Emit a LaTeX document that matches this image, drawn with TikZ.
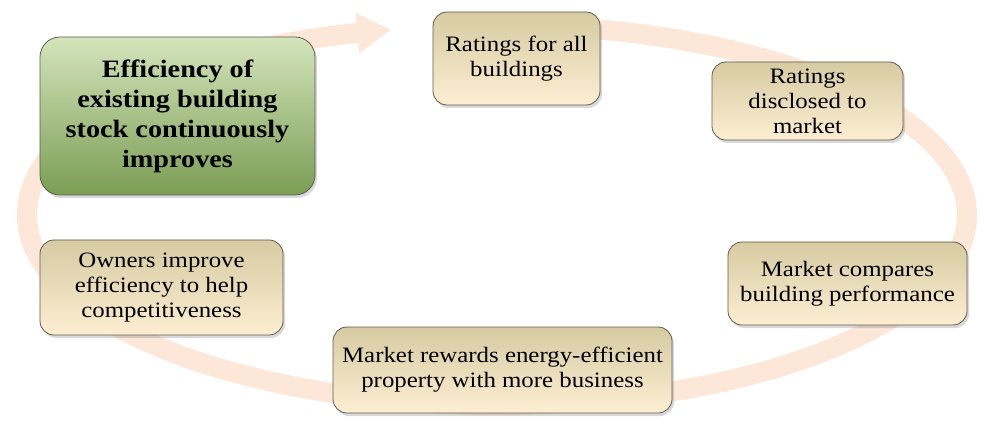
\documentclass[tikz,border=0pt]{standalone}
\usepackage{fontspec}
\setmainfont{Liberation Serif}[FakeStretch=1.13]
\usetikzlibrary{positioning,arrows.meta,shadows}
\definecolor{bandpeach}{RGB}{252,231,216}
\definecolor{boxline}{RGB}{95,92,80}
\definecolor{beigetop}{RGB}{214,203,162}
\definecolor{beigebot}{RGB}{253,238,210}
\definecolor{greentop}{RGB}{212,228,188}
\definecolor{greenbot}{RGB}{122,158,84}

\begin{document}
\begin{tikzpicture}[x=1pt, y=-1pt,
    box/.style={rectangle, draw=boxline, line width=0.8pt, rounded corners=14pt, top color=beigetop, bottom color=beigebot, align=center, inner sep=0pt, font=\fontsize{22}{25}\selectfont, drop shadow={shadow xshift=2pt, shadow yshift=-3pt, opacity=0.3}},
    goal/.style={box, rounded corners=20pt, top color=greentop, bottom color=greenbot, font=\fontsize{25}{30}\selectfont\bfseries},
    ring/.style={line width=20pt, draw=bandpeach, -{Triangle[width=38pt,length=34pt]}}]

    \useasboundingbox (0,0) rectangle (984,427);

    % the cycle band behind the boxes
    \coordinate (ctr) at (497,215);
    \draw[ring] (ctr) ++(-95:470 and 190) arc[start angle=-95, end angle=257, x radius=470, y radius=190];

    \node[goal, minimum width=275pt, minimum height=158pt] (eff) at (177.5,116) {Efficiency of\\existing building\\stock continuously\\improves};
    \node[box, minimum width=167pt, minimum height=93pt] (rat) at (516.5,58.5) {Ratings for all\\buildings};
    \node[box, minimum width=191pt, minimum height=78pt] (disc) at (807.5,101) {Ratings\\disclosed to\\market};
    \node[box, minimum width=239pt, minimum height=83pt] (comp) at (847.5,283.5) {Market compares\\building performance};
    \node[box, minimum width=339pt, minimum height=86pt] (rew) at (502.5,370) {Market rewards energy-efficient\\property with more business};
    \node[box, minimum width=243pt, minimum height=95pt] (own) at (161.5,287.5) {Owners improve\\efficiency to help\\competitiveness};

\end{tikzpicture}
\end{document}
